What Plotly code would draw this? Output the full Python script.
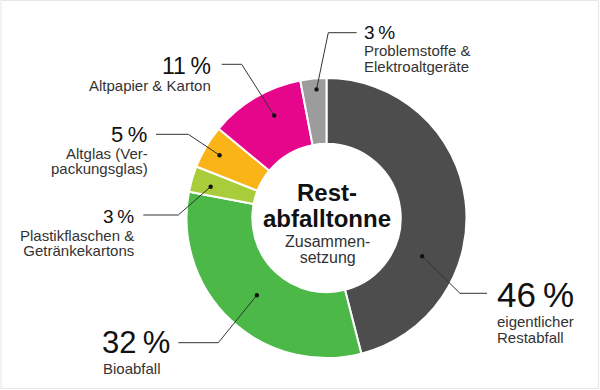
import math
import plotly.graph_objects as go

# ---- data ----
categories = ["eigentlicher Restabfall", "Bioabfall", "Plastikflaschen & Getränkekartons",
              "Altglas (Verpackungsglas)", "Altpapier & Karton", "Problemstoffe & Elektroaltgeräte"]
values = [46, 32, 3, 5, 11, 3]
pct_labels = ["46\u2009%", "32\u2009%", "3\u2009%", "5\u2009%", "11\u2009%", "3\u2009%"]
desc_lines = [["eigentlicher", "Restabfall"], ["Bioabfall"], ["Plastikflaschen &", "Getränkekartons"],
              ["Altglas (Ver-", "packungsglas)"], ["Altpapier & Karton"], ["Problemstoffe &", "Elektroaltgeräte"]]
colors = ["#4d4d4d", "#4cb848", "#a9cc3a", "#fbb417", "#e5068b", "#9c9c9c"]

# ---- layout (pixels) ----
W, H = 600, 390
CX, CY, R = 326.5, 218.0, 140.0
HOLE = 0.53
ASC, DESC = 0.905, 0.212

def px(x):
    return x / W

def py(y):
    return 1 - y / H

fig = go.Figure(go.Pie(
    labels=categories, values=values, sort=False, direction="clockwise", rotation=0,
    hole=HOLE, marker=dict(colors=colors, line=dict(color="white", width=2)),
    textinfo="none", hoverinfo="label+percent", showlegend=False,
    domain=dict(x=[px(CX - R), px(CX + R)], y=[py(CY + R), py(CY - R)]),
))

FONT = "Liberation Sans, Arial, sans-serif"
annotations = []

def text_block(x, b1, lines, sizes, gap, anchor, colors_):
    """lines stacked with baseline gap `gap`; b1 = baseline of first line (px)."""
    parts = [f"<span style='font-size:{s}px;color:{c}'>{t}</span>" for t, s, c in zip(lines, sizes, colors_)]
    top = b1 - ASC * sizes[0]
    bottom = b1 + gap * (len(lines) - 1) + DESC * sizes[-1]
    base = gap / 1.3 if len(lines) > 1 else sizes[0]
    annotations.append(dict(x=px(x), y=py((top + bottom) / 2), xref="paper", yref="paper",
                            text="<br>".join(parts), xanchor=anchor, align=anchor, yanchor="middle",
                            showarrow=False, borderpad=0,
                            font=dict(family=FONT, size=base, color=colors_[0])))

# dot placement inside each slice (fraction along slice, radius px), label layout
dot_frac = [0.675, 0.49, 0.4, 0.49, 0.59, 0.59]
dot_rad = [103, 104, 120, 124, 115, 129]
elbows = [(460, 293.3), (218.3, 342.7), (178.3, 215), (188.3, 134.3), (241.7, 64.3), (328.3, 32.7)]
ends = [(487, 293.3), (178.3, 342.7), (143.3, 215), (156, 134.3), (221.7, 64.3), (356.7, 32.7)]
pct_pos = [(496, 306.3, "left", 35), (101, 353.5, "left", 31), (135, 223.3, "right", 19),
           (148, 142.3, "right", 22), (212, 73.7, "right", 23), (363, 39.1, "left", 19)]
desc_pos = [(496, 327.4, 15.5, "left"), (102, 374.0, 0, "left"), (135, 240.2, 15.4, "right"),
            (149, 158.8, 15.4, "right"), (212, 90.5, 0, "right"), (363, 56.2, 15.7, "left")]

shapes = []
total = sum(values)
cum = 0.0
for i, v in enumerate(values):
    a0 = cum / total * 360
    a1 = (cum + v) / total * 360
    cum += v
    th = math.radians(a0 + (a1 - a0) * dot_frac[i])
    dx = CX + dot_rad[i] * math.sin(th)
    dy = CY - dot_rad[i] * math.cos(th)
    ex, ey = elbows[i]
    fx, fy = ends[i]
    shapes.append(dict(type="path", xref="paper", yref="paper",
                       path=f"M {px(dx)} {py(dy)} L {px(ex)} {py(ey)} L {px(fx)} {py(fy)}",
                       line=dict(color="#333333", width=1)))
    rr = 2.2
    shapes.append(dict(type="circle", xref="paper", yref="paper",
                       x0=px(dx - rr), x1=px(dx + rr), y0=py(dy + rr), y1=py(dy - rr),
                       fillcolor="#111111", line=dict(width=0)))
    x, b, anc, size = pct_pos[i]
    dxp, db, gap, danc = desc_pos[i]
    text_block(x, b, [pct_labels[i]], [size], 0, anc, ["#111111"])
    text_block(dxp, db, desc_lines[i], [15] * len(desc_lines[i]), gap, danc,
               ["#333333"] * len(desc_lines[i]))

# centre title
text_block(327, 201.3, ["<b>Rest-</b>", "<b>abfalltonne</b>"], [24, 24], 25.7, "center", ["#111111", "#111111"])
text_block(327, 246.8, ["Zusammen-", "setzung"], [16, 16], 16.4, "center", ["#333333", "#333333"])

shapes.append(dict(type="rect", xref="paper", yref="paper", x0=px(1), x1=px(598.5), y0=py(388.5), y1=py(0.5),
                   line=dict(color="#e6e6e6", width=1), layer="below"))

fig.update_layout(width=W, height=H, margin=dict(l=0, r=0, t=0, b=0),
                  paper_bgcolor="white", plot_bgcolor="white",
                  shapes=shapes, annotations=annotations)
fig.write_html("out.html", config={"displayModeBar": False},
               post_script="document.body.style.margin='0';document.body.style.padding='0';")
